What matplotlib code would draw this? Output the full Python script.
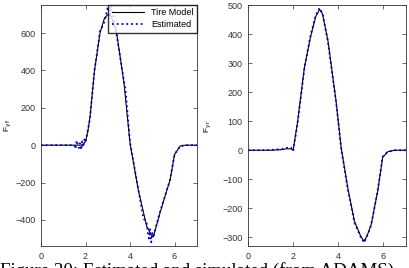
import numpy as np
import matplotlib.pyplot as plt
import matplotlib as mpl

mpl.rcParams['font.family'] = 'Liberation Sans'
mpl.rcParams['font.size'] = 6

# front tyre lateral force
t_f = [0, 0.5, 1.0, 1.5, 1.8, 1.9, 2.0, 2.1, 2.2, 2.4, 2.65, 2.85, 3.0, 3.15,
       3.4, 3.73, 4.0, 4.37, 4.75, 4.95, 5.05, 5.34, 5.8, 6.0, 6.25, 6.5, 7.0]
fyf_model = [0, 0, 0, 0, 0, 5, 20, 70, 150, 395, 600, 680, 700, 690,
             600, 332, 10, -240, -435, -480, -490, -365, -185, -50, -5, 0, 0]
t_fe = [0, 0.5, 1.0, 1.5, 1.55, 1.6, 1.7, 1.75, 1.8, 1.85, 1.9, 1.95, 2.0, 2.1, 2.2,
        2.4, 2.5, 2.65, 2.85, 3.0, 3.1, 3.15, 3.25, 3.4, 3.73, 3.8, 4.0, 4.37,
        4.6, 4.75, 4.8, 4.85, 4.9, 4.95, 5.0, 5.05, 5.34, 5.8, 6.0, 6.25, 6.5, 7.0]
fyf_est = [0, 0, 0, 0, -20, 25, -15, 10, -25, 20, -10, 30, 15, 80, 140,
           400, 480, 610, 660, 740, 700, 745, 690, 590, 340, 290, 15, -235,
           -390, -420, -470, -500, -450, -520, -470, -490, -360, -185, -50, -5, 0, 0]

# rear tyre lateral force
t_r = [0, 0.5, 1.0, 1.5, 1.7, 1.9, 2.0, 2.2, 2.5, 2.77, 3.0, 3.17, 3.3,
       3.54, 3.9, 4.13, 4.42, 4.72, 5.0, 5.15, 5.3, 5.46, 5.75, 5.97, 6.2, 6.5, 7.0]
fyr_model = [0, 0, 0, 2, 5, 5, 0, 100, 286, 390, 460, 485, 470,
             379, 171, 9, -129, -245, -297, -314, -290, -256, -141, -25, -5, 0, 0]
fyr_est = [0, 0, 1, 4, 8, 10, -3, 95, 282, 395, 465, 490, 472,
           375, 168, 5, -132, -250, -300, -318, -292, -258, -138, -22, -5, 0, 0]

fig = plt.figure(figsize=(4.1, 2.68), dpi=100)
ax1 = fig.add_axes([0.1, 0.082, 0.38, 0.899])
ax2 = fig.add_axes([0.605, 0.082, 0.385, 0.899])

ax1.plot(t_f, fyf_model, color='k', lw=0.8, label='Tire Model')
ax1.plot(t_fe, fyf_est, color='#0000cc', lw=1.3, ls=':', label='Estimated')
ax1.set_xlim(0, 7)
ax1.set_ylim(-540, 750)
ax1.set_xticks([0, 2, 4, 6])
ax1.set_yticks([-400, -200, 0, 200, 400, 600])
ax1.set_ylabel(r'F$_{\mathrm{y\,f}}$', fontsize=6, labelpad=1)
ax1.legend(loc='upper right', fontsize=6.5, frameon=True, fancybox=False,
           edgecolor='k', borderpad=0.35, handlelength=3.6, labelspacing=0.35,
           borderaxespad=0.0)

ax2.plot(t_r, fyr_model, color='k', lw=0.8)
ax2.plot(t_r, fyr_est, color='#0000cc', lw=1.3, ls=':')
ax2.set_xlim(0, 7)
ax2.set_ylim(-330, 500)
ax2.set_xticks([0, 2, 4, 6])
ax2.set_yticks([-300, -200, -100, 0, 100, 200, 300, 400, 500])
ax2.set_ylabel(r'F$_{\mathrm{y\,r}}$', fontsize=6, labelpad=6)

for ax in (ax1, ax2):
    ax.tick_params(direction='in', length=3, width=0.5, labelsize=6.5, pad=4,
                   top=True, right=True, colors='#333333', labelcolor='#333333')
    for s in ax.spines.values():
        s.set_linewidth(0.6)
        s.set_color('#333333')

fig.text(0.0, -0.028, 'Figure 20: Estimated and simulated (from ADAMS)',
         family='Liberation Serif', fontsize=13.6, ha='left', va='baseline')

plt.savefig('out.png', dpi=100)
